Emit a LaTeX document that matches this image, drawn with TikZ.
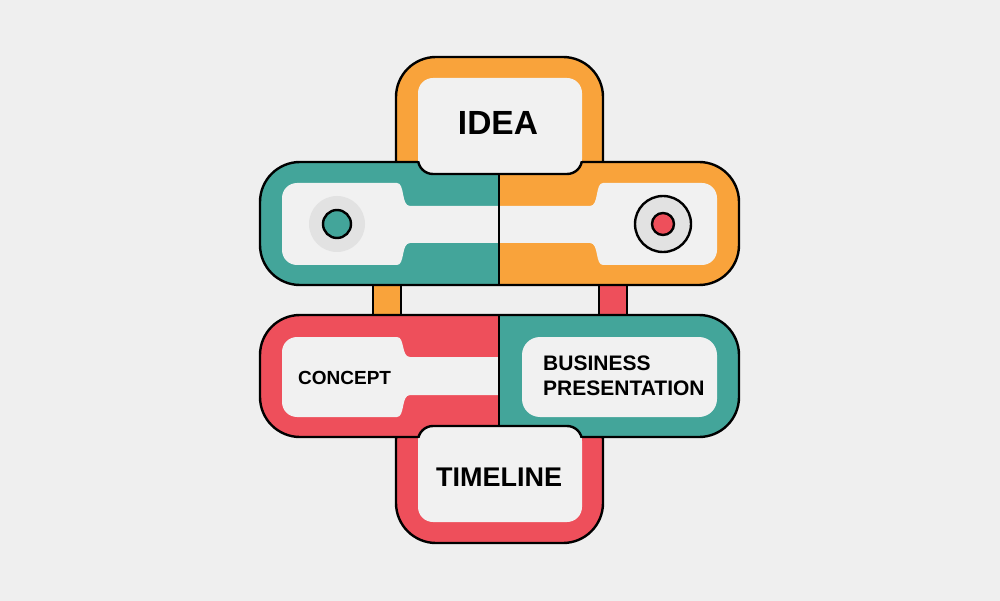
\documentclass[tikz,border=0pt]{standalone}
\usepackage{fontspec}
\setmainfont{Liberation Sans}

\definecolor{bgcol}{HTML}{EFEFEF}
\definecolor{tealc}{HTML}{43A59A}
\definecolor{orangec}{HTML}{F9A33B}
\definecolor{redc}{HTML}{EE4F5B}
\definecolor{padc}{HTML}{F1F1F1}
\definecolor{haloc}{HTML}{E2E2E2}

\tikzset{
  outline/.style={draw=black, line width=2.4pt},
  pad/.style={fill=padc},
  txt/.style={inner sep=0pt, font=\bfseries},
}

\begin{document}
\begin{tikzpicture}[x=1pt,y=-1pt]
\useasboundingbox[fill=bgcol] (0,0) rectangle (1000,601);

\path[outline,fill=orangec] (373,270) rectangle (401,330);
\path[outline,fill=redc] (599,270) rectangle (627,330);

\path[outline,fill=orangec,rounded corners=40pt] (396,57) rectangle (603,200);
\path[outline,fill=redc,rounded corners=40pt] (396,400) rectangle (603,543);

\begin{scope}
\clip[rounded corners=40pt] (260,162) rectangle (739,285);
\fill[tealc] (260,162) rectangle (499,285);
\fill[orangec] (499,162) rectangle (739,285);
\end{scope}
\path[outline,rounded corners=40pt] (260,162) rectangle (739,285);
\fill[pad] (282,198) arc[start angle=180,end angle=270,radius=15]
  -- (397,183) .. controls (405,183) and (401,206) .. (410,206)
  -- (590,206) .. controls (599,206) and (595,183) .. (603,183)
  -- (702,183) arc[start angle=270,end angle=360,radius=15]
  -- (717,250) arc[start angle=0,end angle=90,radius=15]
  -- (603,265) .. controls (595,265) and (599,243) .. (590,243)
  -- (410,243) .. controls (401,243) and (405,265) .. (397,265)
  -- (297,265) arc[start angle=90,end angle=180,radius=15] -- cycle;
\fill[haloc] (337,224) circle[radius=28];
\path[outline,fill=tealc] (337,224) circle[radius=14];
\path[outline,fill=haloc] (663,224) circle[radius=28];
\path[outline,fill=redc] (663,224) circle[radius=11];
\path[outline] (499,162) -- (499,285);

\fill[pad,rounded corners=15pt] (418,78) rectangle (582,174);
\begin{scope}
\clip (400,162) rectangle (600,190);
\path[outline,rounded corners=15pt] (418,78) rectangle (582,174);
\end{scope}
\node[txt,font=\fontsize{33.5}{40}\selectfont\bfseries] (idea) at (498,123) {IDEA};

\begin{scope}
\clip[rounded corners=40pt] (260,315) rectangle (739,437);
\fill[redc] (260,315) rectangle (499,437);
\fill[tealc] (499,315) rectangle (739,437);
\end{scope}
\path[outline,rounded corners=40pt] (260,315) rectangle (739,437);
\fill[pad] (282,352) arc[start angle=180,end angle=270,radius=15]
  -- (397,337) .. controls (405,337) and (401,357) .. (410,357)
  -- (499,357) -- (499,395)
  -- (410,395) .. controls (401,395) and (405,417) .. (397,417)
  -- (297,417) arc[start angle=90,end angle=180,radius=15] -- cycle;
\fill[pad,rounded corners=18pt] (522,337) rectangle (717,417);
\path[outline] (499,315) -- (499,437);
\node[txt,font=\fontsize{19}{23}\selectfont\bfseries,anchor=west] (concept) at (298,378) {CONCEPT};
\node[txt,font=\fontsize{21}{25}\selectfont\bfseries,anchor=west,align=left] (business) at (543,375.5) {BUSINESS\\PRESENTATION};

\fill[pad,rounded corners=15pt] (418,426) rectangle (582,522);
\begin{scope}
\clip (400,410) rectangle (600,437);
\path[outline,rounded corners=15pt] (418,426) rectangle (582,522);
\end{scope}
\node[txt,font=\fontsize{27}{32}\selectfont\bfseries] (timeline) at (499,477) {TIMELINE};
\end{tikzpicture}
\end{document}
